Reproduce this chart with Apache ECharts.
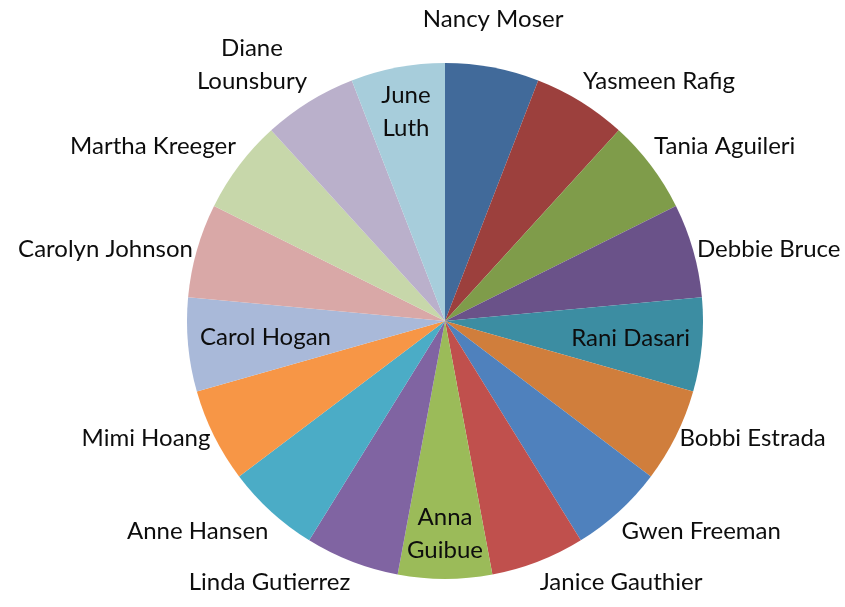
<!DOCTYPE html>
<html>
<head>
<meta charset="utf-8">
<style>
  html, body { margin: 0; padding: 0; background: #fff; }
  #main { width: 845px; height: 607px; }
</style>
<script src="https://cdn.jsdelivr.net/npm/echarts@6/dist/echarts.min.js"></script>
</head>
<body>
<div id="main"></div>
<script>
// slices, clockwise from 12 o'clock
const names = [
  "Nancy Moser", "Yasmeen Rafig", "Tania Aguileri", "Debbie Bruce", "Rani Dasari",
  "Bobbi Estrada", "Gwen Freeman", "Janice Gauthier", "Anna\nGuibue", "Linda Gutierrez",
  "Anne Hansen", "Mimi Hoang", "Carol Hogan", "Carolyn Johnson", "Martha Kreeger",
  "Diane\nLounsbury", "June\nLuth"
];
const values = [1, 1, 1, 1, 1, 1, 1, 1, 1, 1, 1, 1, 1, 1, 1, 1, 1];
const colors = [
  "#416a9a", "#9c403d", "#7f9c4a", "#6a5289", "#3c8da2", "#d07e3c",
  "#4f81bd", "#c0504d", "#9bbb59", "#8064a2", "#4bacc6", "#f79646",
  "#a9b9d9", "#d9a8a7", "#c7d7aa", "#bab0cb", "#a7cddb"
];
// labels drawn inside the slice
const insideLabels = ["Rani Dasari", "Anna\nGuibue", "Carol Hogan", "June\nLuth"];

const cx = 445, cy = 321, R = 258;

let chart = echarts.init(document.getElementById("main"));

function placeLabel(params) {
  let i = params.dataIndex;
  let a = (i + 0.5) / values.length * Math.PI * 2;
  let ux = Math.sin(a), uy = -Math.cos(a);
  let w = params.labelRect.width, h = params.labelRect.height;
  if (insideLabels.indexOf(names[i]) >= 0) {
    let half = Math.min(
      Math.abs(ux) > 0.01 ? w / 2 / Math.abs(ux) : 1e9,
      Math.abs(uy) > 0.01 ? h / 2 / Math.abs(uy) : 1e9
    );
    let d = R - 12 - half;
    return { x: cx + d * ux, y: cy + d * uy, align: "center", verticalAlign: "middle" };
  }
  // outside: the corner of the label nearest the pie sits just off the rim
  let d = R + 4;
  let x = cx + d * ux, y = cy + d * uy;
  if (ux > 0.25) x += w / 2;
  else if (ux < -0.25) x -= w / 2;
  else y -= 28;
  if (uy < -0.5) y -= h / 2;
  else if (uy > 0.5) y += h / 2;
  return { x: x, y: y, align: "center", verticalAlign: "middle" };
}

let option = {
  animation: false,
  backgroundColor: "#fff",
  series: [
    {
      type: "pie",
      center: [cx, cy],
      radius: R,
      startAngle: 90,
      clockwise: true,
      avoidLabelOverlap: false,
      data: names.map((n, i) => ({ name: n, value: values[i], itemStyle: { color: colors[i] } })),
      label: {
        show: true,
        position: "outside",
        formatter: "{b}",
        color: "#0d0d0d",
        fontFamily: "Lato",
        fontSize: 24,
        lineHeight: 33
      },
      labelLine: { show: false },
      labelLayout: placeLabel,
      emphasis: { disabled: true }
    }
  ]
};
option && chart.setOption(option);
</script>
</body>
</html>
